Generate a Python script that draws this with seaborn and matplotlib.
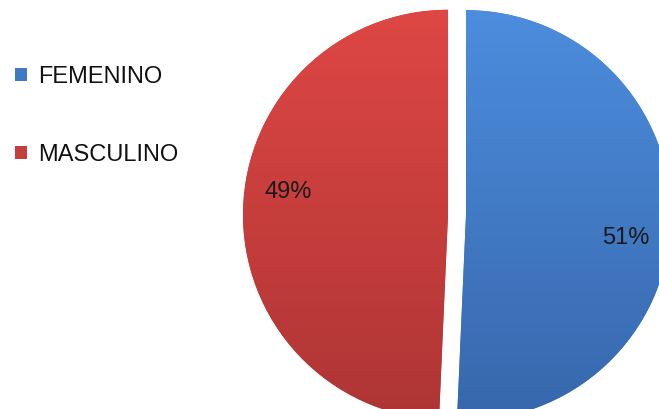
import numpy as np
import matplotlib
matplotlib.use("Agg")
import matplotlib.pyplot as plt
import seaborn as sns
from matplotlib.patches import Patch
from matplotlib.colors import LinearSegmentedColormap

# ---- data ----
categories = ["FEMENINO", "MASCULINO"]
values = [50.7, 49.3]

# ---- style ----
top_colors = ["#4C8DDD", "#DE4744"]
bottom_colors = ["#3767AC", "#AE3535"]
legend_colors = ["#3F78C4", "#C63E3B"]

sns.set_theme(style="white")
plt.rcParams["font.family"] = ["Liberation Sans", "DejaVu Sans"]

W, H = 659, 409
fig = plt.figure(figsize=(W / 100, H / 100), dpi=100)
ax = fig.add_axes([0, 0, 1, 1])

R = 205
cx, cy = 457, 194
wedges, texts = ax.pie(
    values,
    radius=R,
    center=(cx, cy),
    startangle=90,
    counterclock=False,
    explode=[9, 9],
    colors=sns.color_palette(legend_colors),
    wedgeprops=dict(linewidth=0),
)
ax.set_xlim(0, W)
ax.set_ylim(0, H)
ax.set_aspect("auto")
ax.axis("off")

# gradient fill clipped to each wedge
for w, ct, cb in zip(wedges, top_colors, bottom_colors):
    cmap = LinearSegmentedColormap.from_list("g", [cb, ct])
    grad = np.linspace(0, 1, 256).reshape(-1, 1)
    x0, y0 = w.center
    im = ax.imshow(grad, cmap=cmap, origin="lower", aspect="auto",
                   extent=(x0 - R, x0 + R, y0 - R, y0 + R), zorder=2)
    im.set_clip_path(w)
    w.set_zorder(1)
ax.set_xlim(0, W)
ax.set_ylim(0, H)

# percentage labels
total = sum(values)
for w, v in zip(wedges, values):
    thm = np.deg2rad((w.theta1 + w.theta2) / 2 - 7)
    x0, y0 = w.center
    ax.text(x0 + 0.79 * R * np.cos(thm), y0 + 0.79 * R * np.sin(thm),
            f"{round(100 * v / total):d}%", ha="center", va="center",
            fontsize=17, color="#1a1a1a", zorder=5)

handles = [Patch(facecolor=c, edgecolor="none") for c in legend_colors]
fig.legend(handles, categories, loc="upper left",
           bbox_to_anchor=(15 / W, 1 - 66 / H), bbox_transform=fig.transFigure,
           frameon=False, fontsize=17, handlelength=0.5, handleheight=0.5,
           handletextpad=0.5, labelspacing=2.36, borderpad=0, borderaxespad=0,
           labelcolor="#111111")

fig.savefig("out.png", dpi=100)
